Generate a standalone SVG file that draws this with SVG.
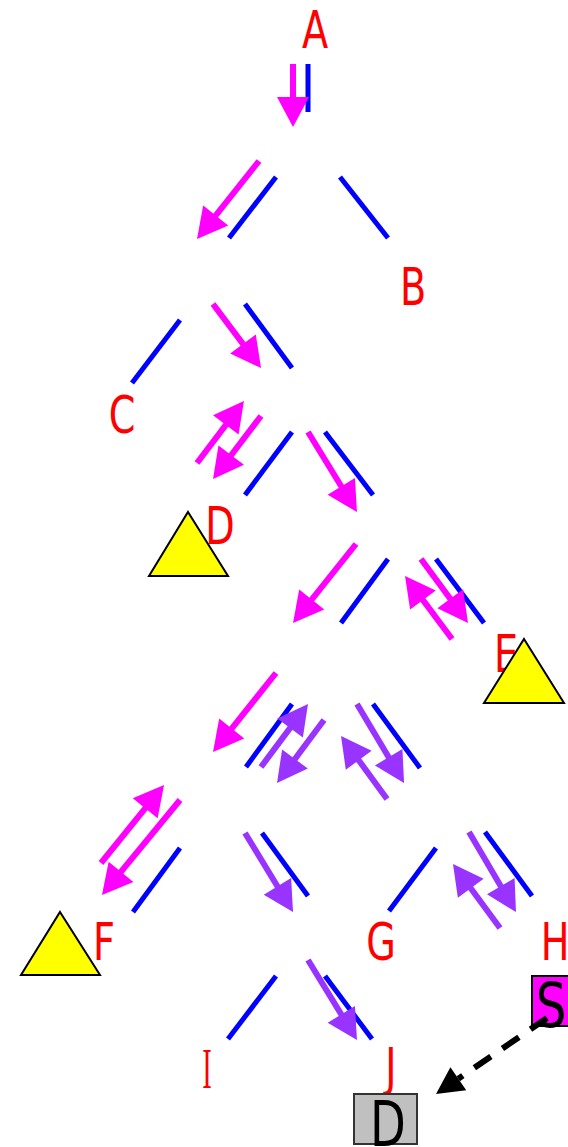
<svg xmlns="http://www.w3.org/2000/svg" width="568" height="1147" viewBox="0 0 568 1147">
<style>
.lbl{font-family:"DejaVu Sans","Liberation Sans",sans-serif;font-size:51px;fill:#ff0000;text-anchor:middle}
.ser{font-family:"Liberation Serif","DejaVu Serif",serif;font-size:57px;fill:#ff0000;text-anchor:middle}
.big{font-family:"DejaVu Sans","Liberation Sans",sans-serif;font-size:62px;fill:#000;text-anchor:middle}
.tri{fill:#ffff00;stroke:#000;stroke-width:2}
.edge{stroke:#0000ff;stroke-width:5;fill:none}
.am{stroke:#ff00ff;stroke-width:6;fill:none;marker-end:url(#hm)}
.ap{stroke:#9933ff;stroke-width:6;fill:none;marker-end:url(#hp)}
</style>
<defs>
<marker id="hm" markerUnits="userSpaceOnUse" markerWidth="30" markerHeight="32" refX="18" refY="16" orient="auto" overflow="visible"><path d="M0,0 L30,16 L0,32 z" fill="#ff00ff"/></marker>
<marker id="hp" markerUnits="userSpaceOnUse" markerWidth="30" markerHeight="32" refX="18" refY="16" orient="auto" overflow="visible"><path d="M0,0 L30,16 L0,32 z" fill="#9933ff"/></marker>
<marker id="hk" markerUnits="userSpaceOnUse" markerWidth="27" markerHeight="28" refX="0" refY="14" orient="auto" overflow="visible"><path d="M0,0 L27,14 L0,28 z" fill="#000"/></marker>
</defs>
<g id="nA"><text class="lbl" transform="translate(315,48) scale(0.75,1)">A</text></g>
<g id="nB"><text class="lbl" transform="translate(413,305) scale(0.75,1)">B</text></g>
<g id="nC"><text class="lbl" transform="translate(122,433) scale(0.75,1)">C</text></g>
<g id="nD"><polygon class="tri" points="188,512 228,576 149,576"/><text class="lbl" transform="translate(220,544) scale(0.75,1)">D</text></g>
<g id="nE"><text class="lbl" transform="translate(506,672) scale(0.75,1)">E</text><polygon class="tri" points="524,639 564,703 484,703"/></g>
<g id="nF"><polygon class="tri" points="60,912 100,975 21,975"/><text class="lbl" transform="translate(104,960) scale(0.75,1)">F</text></g>
<g id="nG"><text class="lbl" transform="translate(381,960) scale(0.75,1)">G</text></g>
<g id="nH"><text class="lbl" transform="translate(555,960) scale(0.75,1)">H</text></g>
<g id="nI"><text class="ser" transform="translate(207,1088) scale(0.5,1)">I</text></g>
<g id="nJ"><text class="lbl" transform="translate(391,1085) scale(0.75,1)">J</text></g>
<g id="nS"><rect x="532" y="976" width="40" height="50" fill="#ff00ff" stroke="#000" stroke-width="2"/><text class="big" transform="translate(551,1027) scale(0.78,1)">S</text></g>
<g id="nDst"><rect x="354" y="1094" width="63" height="50" fill="#c0c0c0" stroke="#333" stroke-width="2"/><text class="big" transform="translate(388,1146) scale(0.75,1)">D</text></g>
<g id="connectors">
<line class="edge" x1="308" y1="64" x2="308" y2="112"/>
<line class="edge" x1="276" y1="177" x2="229" y2="238"/>
<line class="edge" x1="340" y1="177" x2="388" y2="238"/>
<line class="edge" x1="180" y1="320" x2="132" y2="383"/>
<line class="edge" x1="245" y1="304" x2="292" y2="368"/>
<line class="edge" x1="292" y1="432" x2="245" y2="495"/>
<line class="edge" x1="325" y1="432" x2="373" y2="495"/>
<line class="edge" x1="388" y1="559" x2="341" y2="623"/>
<line class="edge" x1="436" y1="559" x2="484" y2="623"/>
<line class="edge" x1="292" y1="704" x2="246" y2="767"/>
<line class="edge" x1="373" y1="704" x2="420" y2="768"/>
<line class="edge" x1="180" y1="848" x2="133" y2="912"/>
<line class="edge" x1="262" y1="833" x2="308" y2="896"/>
<line class="edge" x1="436" y1="848" x2="389" y2="911"/>
<line class="edge" x1="485" y1="832" x2="532" y2="896"/>
<line class="edge" x1="276" y1="976" x2="228" y2="1039"/>
<line class="edge" x1="325" y1="976" x2="372" y2="1039"/>
<line class="am" x1="293" y1="64" x2="293" y2="115"/>
<line class="am" x1="259" y1="161" x2="204.5" y2="229.6"/>
<line class="am" x1="213" y1="304" x2="253.8" y2="358.4"/>
<line class="am" x1="197" y1="463" x2="236.7" y2="410.6"/>
<line class="am" x1="261" y1="416" x2="220.3" y2="469.5"/>
<line class="am" x1="308" y1="432" x2="350.7" y2="501.8"/>
<line class="am" x1="356" y1="544" x2="300.5" y2="613.6"/>
<line class="am" x1="421" y1="559" x2="460.9" y2="613.3"/>
<line class="am" x1="452" y1="639" x2="412.2" y2="585.6"/>
<line class="am" x1="276" y1="673" x2="220.5" y2="742.6"/>
<line class="ap" x1="261" y1="767" x2="300.8" y2="713.6"/>
<line class="ap" x1="324" y1="720" x2="284.2" y2="773.4"/>
<line class="ap" x1="357" y1="704" x2="397.9" y2="772.7"/>
<line class="ap" x1="387" y1="799" x2="348.1" y2="745.7"/>
<line class="am" x1="101" y1="863" x2="156.5" y2="794.3"/>
<line class="am" x1="180" y1="800" x2="109.6" y2="885.7"/>
<line class="ap" x1="245" y1="833" x2="286.8" y2="901.7"/>
<line class="ap" x1="469" y1="832" x2="509.9" y2="901.7"/>
<line class="ap" x1="500" y1="928" x2="460.1" y2="873.7"/>
<line class="ap" x1="308" y1="960" x2="350.7" y2="1029.8"/>
<line x1="547" y1="1018" x2="458.3" y2="1078.7" stroke="#000" stroke-width="6" stroke-dasharray="20,14" marker-end="url(#hk)"/>
</g>
</svg>
